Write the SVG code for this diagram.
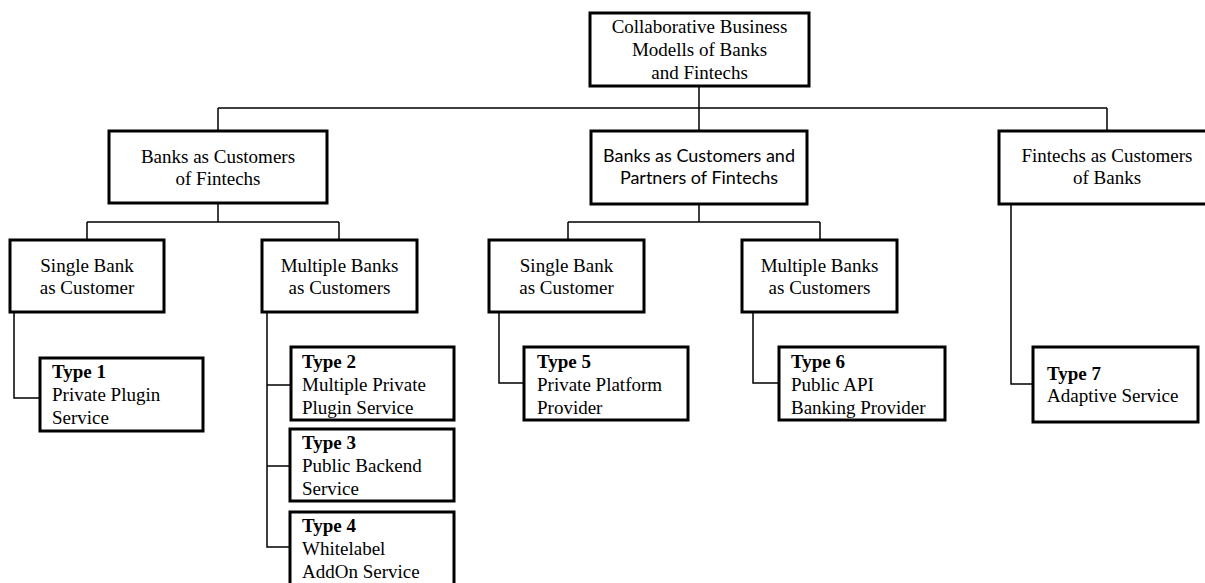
<svg xmlns="http://www.w3.org/2000/svg" width="1205" height="583" viewBox="0 0 1205 583">
<style>
.box{fill:#fff;stroke:#000;stroke-width:3}
.c{fill:none;stroke:#000;stroke-width:1.5}
.t{font-family:"Liberation Serif","Times New Roman",serif;font-size:19px;fill:#000}
.s{font-family:Lato,"Liberation Sans",sans-serif;font-size:18px;fill:#000}
.m{text-anchor:middle}
.b{font-weight:bold}
</style>
<rect width="1205" height="583" fill="#fff"/>
<g id="connectors">
<path class="c" d="M699 86V108M218 108H1107M218 108V131M699 108V131M1107 108V131"/>
<path class="c" d="M218 203V222M87 222H339M87 222V240M339 222V240"/>
<path class="c" d="M699 204V222M568 222H820M568 222V240M820 222V240"/>
<path class="c" d="M14 312V398H40"/>
<path class="c" d="M267 312V547H290M267 385H291M267 466H290"/>
<path class="c" d="M499 312V383H524"/>
<path class="c" d="M753 312V383H779"/>
<path class="c" d="M1011 204V384H1033"/>
</g>
<g id="root">
<rect class="box" x="590" y="13" width="219" height="73"/>
<text class="t m" x="699.5" y="33">Collaborative Business</text>
<text class="t m" x="699.5" y="56">Modells of Banks</text>
<text class="t m" x="699.5" y="79">and Fintechs</text>
</g>
<g id="banks-customers">
<rect class="box" x="109" y="131" width="218" height="72"/>
<text class="t m" x="218" y="163">Banks as Customers</text>
<text class="t m" x="218" y="185">of Fintechs</text>
</g>
<g id="banks-partners">
<rect class="box" x="591" y="131" width="216" height="73"/>
<text class="s m" x="699" y="162">Banks as Customers and</text>
<text class="s m" x="699" y="184">Partners of Fintechs</text>
</g>
<g id="fintechs-customers">
<rect class="box" x="999" y="131" width="216" height="73"/>
<text class="t m" x="1107" y="162">Fintechs as Customers</text>
<text class="t m" x="1107" y="184">of Banks</text>
</g>
<g id="single-1">
<rect class="box" x="10" y="240" width="154" height="72"/>
<text class="t m" x="87" y="272">Single Bank</text>
<text class="t m" x="87" y="294">as Customer</text>
</g>
<g id="multiple-1">
<rect class="box" x="262" y="240" width="155" height="72"/>
<text class="t m" x="339.5" y="272">Multiple Banks</text>
<text class="t m" x="339.5" y="294">as Customers</text>
</g>
<g id="single-2">
<rect class="box" x="489" y="240" width="155" height="72"/>
<text class="t m" x="566.5" y="272">Single Bank</text>
<text class="t m" x="566.5" y="294">as Customer</text>
</g>
<g id="multiple-2">
<rect class="box" x="742" y="240" width="155" height="72"/>
<text class="t m" x="819.5" y="272">Multiple Banks</text>
<text class="t m" x="819.5" y="294">as Customers</text>
</g>
<g id="type1">
<rect class="box" x="40" y="358" width="163" height="73"/>
<text class="t b" x="52" y="378">Type 1</text>
<text class="t" x="52" y="401">Private Plugin</text>
<text class="t" x="52" y="424">Service</text>
</g>
<g id="type2">
<rect class="box" x="291" y="347" width="163" height="73"/>
<text class="t b" x="302" y="368">Type 2</text>
<text class="t" x="302" y="391">Multiple Private</text>
<text class="t" x="302" y="414">Plugin Service</text>
</g>
<g id="type3">
<rect class="box" x="290" y="429" width="164" height="72"/>
<text class="t b" x="302" y="449">Type 3</text>
<text class="t" x="302" y="472">Public Backend</text>
<text class="t" x="302" y="495">Service</text>
</g>
<g id="type4">
<rect class="box" x="290" y="512" width="164" height="75"/>
<text class="t b" x="302" y="532">Type 4</text>
<text class="t" x="302" y="555">Whitelabel</text>
<text class="t" x="302" y="578">AddOn Service</text>
</g>
<g id="type5">
<rect class="box" x="524" y="347" width="164" height="73"/>
<text class="t b" x="537" y="368">Type 5</text>
<text class="t" x="537" y="391">Private Platform</text>
<text class="t" x="537" y="414">Provider</text>
</g>
<g id="type6">
<rect class="box" x="779" y="347" width="166" height="73"/>
<text class="t b" x="791" y="368">Type 6</text>
<text class="t" x="791" y="391">Public API</text>
<text class="t" x="791" y="414">Banking Provider</text>
</g>
<g id="type7">
<rect class="box" x="1033" y="347" width="165" height="75"/>
<text class="t b" x="1047" y="380">Type 7</text>
<text class="t" x="1047" y="402">Adaptive Service</text>
</g>
</svg>
